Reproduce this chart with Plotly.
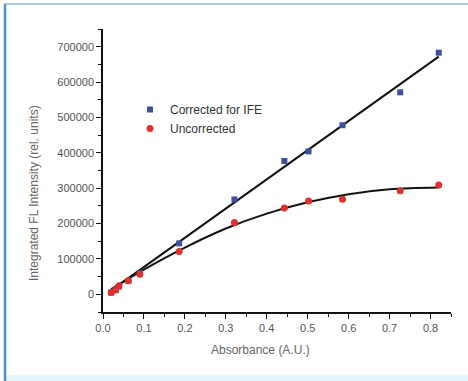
import plotly.graph_objects as go

# Data
absorbance = [0.020, 0.031, 0.039, 0.062, 0.090, 0.186, 0.321, 0.443, 0.502, 0.585, 0.726, 0.820]
corrected = [5000, 12000, 22000, 38000, 60000, 144000, 268000, 377000, 404000, 478000, 571000, 683000]
uncorrected = [5000, 12000, 24000, 38000, 57000, 121000, 203000, 244000, 264000, 269000, 293000, 309000]

# Fit curves
lin_fit_x = [0.02, 0.82]
lin_fit_y = [11000, 672000]
quad_fit_x = [0.02, 0.1, 0.2, 0.3, 0.4, 0.5, 0.6, 0.7, 0.82]
quad_fit_y = [15000, 70000, 132000, 186000, 228000, 260000, 283000, 297000, 302000]

x_ticks = [0.0, 0.1, 0.2, 0.3, 0.4, 0.5, 0.6, 0.7, 0.8]
y_ticks = [0, 100000, 200000, 300000, 400000, 500000, 600000, 700000]

fig = go.Figure()
fig.add_trace(go.Scatter(x=lin_fit_x, y=lin_fit_y, mode="lines",
                         line=dict(color="#111111", width=2), showlegend=False, hoverinfo="skip"))
fig.add_trace(go.Scatter(x=quad_fit_x, y=quad_fit_y, mode="lines", line_shape="spline",
                         line=dict(color="#111111", width=2), showlegend=False, hoverinfo="skip"))
fig.add_trace(go.Scatter(x=absorbance, y=corrected, mode="markers", name="Corrected for IFE",
                         marker=dict(symbol="square", size=6, color="#3b4f9c")))
fig.add_trace(go.Scatter(x=absorbance, y=uncorrected, mode="markers", name="Uncorrected",
                         marker=dict(symbol="circle", size=7, color="#e0302e")))

W, H = 468, 381
L, R, T, B = 103, 17, 29, 69
pw, ph = W - L - R, H - T - B

def px(x):
    return (x - L) / pw

def py(y):
    return (H - B - y) / ph

fig.update_layout(
    width=W, height=H,
    margin=dict(l=L, r=R, t=T, b=B),
    paper_bgcolor="white", plot_bgcolor="white",
    font=dict(family="Liberation Sans, Arial, sans-serif", color="#555555", size=11),
    showlegend=True,
    legend=dict(x=px(130), y=py(95), xanchor="left", yanchor="top",
                bgcolor="rgba(0,0,0,0)", font=dict(size=12, color="#333333"),
                tracegroupgap=0, itemwidth=30),
    xaxis=dict(range=[0, 0.85], tickvals=x_ticks, ticktext=[f"{v:.1f}" for v in x_ticks],
               showgrid=False, zeroline=False, showline=True, linecolor="#111111", linewidth=1.5,
               ticks="outside", ticklen=5, tickwidth=1.2, tickcolor="#111111",
               minor=dict(dtick=0.05, tick0=0, ticks="outside", ticklen=3, tickcolor="#111111", tickwidth=1),
               tickfont=dict(size=11, color="#555555")),
    yaxis=dict(range=[-50000, 750000], tickvals=y_ticks, ticktext=[str(v) for v in y_ticks],
               showgrid=False, zeroline=False, showline=True, linecolor="#111111", linewidth=1.5,
               ticks="outside", ticklen=5, tickwidth=1.2, tickcolor="#111111",
               minor=dict(dtick=50000, tick0=0, ticks="outside", ticklen=3, tickcolor="#111111", tickwidth=1),
               tickfont=dict(size=11, color="#555555")),
    annotations=[
        dict(text="Absorbance (A.U.)", x=px(260), y=py(350), xref="paper", yref="paper",
             xanchor="center", yanchor="middle",
             showarrow=False, font=dict(size=12, color="#666666")),
        dict(text="Integrated FL Intensity (rel. units)", x=px(34), y=py(193), xref="paper", yref="paper",
             xanchor="center", yanchor="middle",
             showarrow=False, textangle=-90, font=dict(size=12, color="#666666")),
    ],
    shapes=[
        dict(type="line", xref="paper", yref="paper", x0=px(5), x1=px(5), y0=py(4), y1=py(381),
             line=dict(color="#4a8fc6", width=2.5)),
        dict(type="line", xref="paper", yref="paper", x0=px(4), x1=px(468), y0=py(4), y1=py(4),
             line=dict(color="#8fb7d6", width=1.5)),
        dict(type="rect", xref="paper", yref="paper", x0=px(6), x1=px(468), y0=py(375), y1=py(381),
             fillcolor="#e3f4fa", line=dict(width=0), layer="below"),
    ],
)

fig.write_html("out.html", config={"displayModeBar": False},
               post_script="document.body.style.margin='0';document.body.style.overflow='hidden';")
